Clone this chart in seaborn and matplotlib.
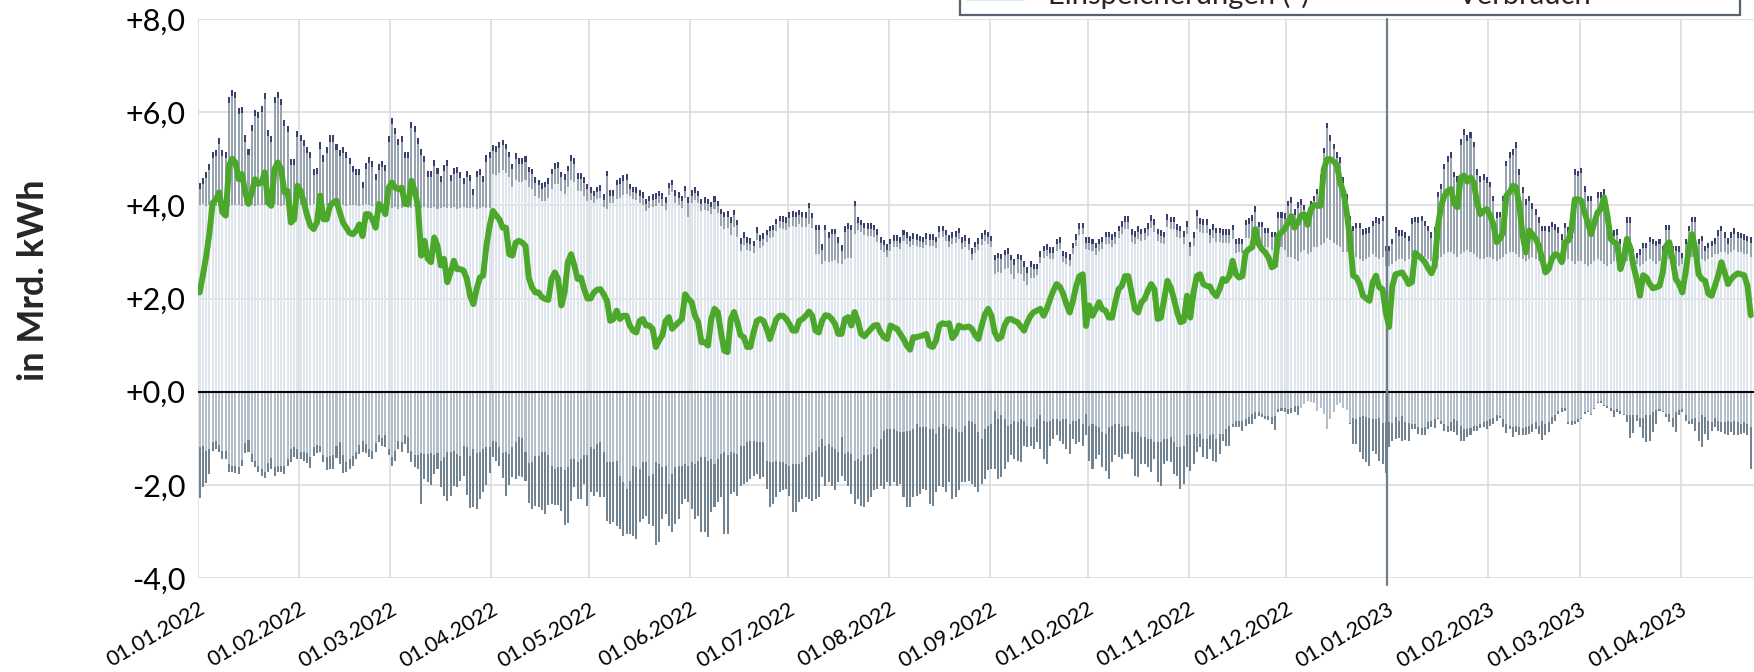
import numpy as np
import pandas as pd
import matplotlib
matplotlib.use("Agg")
import matplotlib.pyplot as plt
import matplotlib.transforms as mtransforms
from matplotlib.patches import Patch
from matplotlib.lines import Line2D
from matplotlib.ticker import FuncFormatter
import seaborn as sns

START = "2022-01-01"

# Gesamtaufkommen (Oberkante der positiven Säule) in Mrd. kWh pro Tag
aufkommen = [
    4.49, 4.58, 4.72, 4.89, 5.15, 5.19, 5.44, 5.19, 5.14, 6.32, 6.48, 6.44, 6.10, 6.12, 5.50, 5.20, 5.72, 6.05, 6.01, 6.14, 6.41, 5.62, 5.48, 6.32, 6.44, 6.28, 5.84, 5.71, 5.00, 5.00, 5.60,
    5.51, 5.41, 5.25, 5.15, 4.79, 4.81, 5.35, 5.07, 5.25, 5.50, 5.50, 5.32, 5.19, 5.25, 5.15, 5.01, 4.85, 4.78, 4.78, 4.51, 4.91, 5.04, 4.96, 4.67, 4.89, 4.96, 4.86, 5.48,
    5.87, 5.67, 5.42, 5.48, 5.15, 5.15, 5.79, 5.71, 5.44, 5.21, 5.05, 4.74, 4.74, 4.98, 4.81, 4.63, 4.86, 4.98, 4.65, 4.81, 4.83, 4.71, 4.58, 4.74, 4.65, 4.36, 4.74, 4.78, 4.63, 5.07, 5.15,
    5.29, 5.27, 5.35, 5.41, 5.32, 5.15, 4.89, 5.12, 5.01, 5.01, 5.05, 4.83, 4.79, 4.60, 4.55, 4.48, 4.51, 4.58, 4.79, 4.91, 4.93, 4.72, 4.67, 4.85, 5.07, 5.01, 4.69, 4.69, 4.60, 4.46,
    4.39, 4.31, 4.40, 4.43, 4.24, 4.74, 4.33, 4.33, 4.55, 4.58, 4.65, 4.67, 4.46, 4.40, 4.39, 4.33, 4.28, 4.14, 4.21, 4.24, 4.26, 4.31, 4.26, 4.17, 4.49, 4.55, 4.33, 4.28, 4.21, 4.42, 4.17,
    4.33, 4.39, 4.31, 4.14, 4.17, 4.14, 4.08, 4.20, 4.10, 3.93, 3.86, 3.88, 3.74, 3.91, 3.69, 3.29, 3.42, 3.31, 3.29, 3.24, 3.53, 3.36, 3.40, 3.48, 3.56, 3.58, 3.71, 3.78, 3.77, 3.74,
    3.85, 3.88, 3.86, 3.91, 3.86, 3.85, 4.06, 3.84, 3.58, 3.58, 3.17, 3.58, 3.42, 3.50, 3.50, 3.31, 3.15, 3.55, 3.62, 3.58, 4.10, 3.74, 3.69, 3.63, 3.62, 3.62, 3.58, 3.49, 3.31, 3.26, 3.17,
    3.28, 3.36, 3.36, 3.31, 3.48, 3.42, 3.35, 3.40, 3.38, 3.35, 3.33, 3.40, 3.38, 3.38, 3.33, 3.55, 3.56, 3.48, 3.36, 3.42, 3.45, 3.52, 3.31, 3.36, 3.29, 3.08, 3.22, 3.29, 3.40, 3.48, 3.43,
    3.35, 2.94, 2.98, 2.96, 3.05, 3.08, 2.94, 2.84, 2.96, 2.94, 2.80, 2.67, 2.80, 2.75, 2.75, 3.01, 3.13, 3.17, 3.10, 3.10, 3.28, 3.31, 3.03, 3.00, 2.95, 3.20, 3.38, 3.62, 3.63, 3.31,
    3.31, 3.28, 3.20, 3.28, 3.33, 3.43, 3.43, 3.38, 3.43, 3.56, 3.66, 3.77, 3.77, 3.49, 3.45, 3.55, 3.50, 3.52, 3.62, 3.79, 3.70, 3.50, 3.47, 3.43, 3.81, 3.76, 3.76, 3.60, 3.56, 3.45, 3.66,
    3.22, 3.42, 3.89, 3.72, 3.70, 3.70, 3.49, 3.60, 3.52, 3.52, 3.49, 3.49, 3.49, 3.58, 3.28, 3.29, 3.28, 3.69, 3.72, 3.79, 3.98, 3.65, 3.65, 3.52, 3.52, 3.43, 3.43, 3.85, 3.85, 3.83,
    4.10, 4.17, 3.92, 4.07, 4.13, 4.01, 3.85, 4.10, 4.21, 4.36, 4.65, 5.24, 5.77, 5.51, 5.32, 5.14, 5.03, 4.60, 4.24, 3.78, 3.56, 3.63, 3.63, 3.49, 3.51, 3.53, 3.67, 3.74, 3.72, 3.78, 3.13,
    3.13, 3.28, 3.53, 3.47, 3.46, 3.42, 3.35, 3.72, 3.76, 3.74, 3.78, 3.67, 3.56, 3.42, 3.53, 4.29, 4.46, 4.89, 5.06, 5.14, 4.72, 4.62, 5.42, 5.64, 5.51, 5.57, 5.37, 4.77, 4.62, 4.67, 4.60,
    4.51, 4.21, 3.85, 3.86, 4.21, 4.96, 5.14, 5.21, 5.35, 4.78, 4.39, 4.13, 4.21, 4.05, 3.92, 3.74, 3.56, 3.56, 3.55, 3.65, 3.60, 3.53, 3.38, 3.63, 3.53, 3.42, 4.78, 4.74,
    4.81, 4.41, 4.21, 4.21, 3.78, 4.28, 4.28, 4.35, 3.74, 3.56, 3.46, 3.49, 3.28, 3.15, 3.74, 3.74, 3.06, 2.98, 3.06, 3.20, 3.20, 3.33, 3.28, 3.24, 3.28, 3.13, 3.58, 3.58, 3.13, 3.13, 3.12,
    2.98, 3.28, 3.56, 3.76, 3.76, 3.28, 3.35, 3.13, 3.20, 3.24, 3.29, 3.46, 3.56, 3.42, 3.29, 3.42, 3.51, 3.42, 3.41, 3.38, 3.35, 3.31,
]

# Importe (helle Säule)
importe = [
    4.00, 4.02, 3.98, 4.00, 4.01, 3.99, 4.00, 4.02, 4.00, 3.98, 4.00, 4.01, 4.00, 3.99, 4.00, 4.02, 4.00, 3.98, 4.00, 4.01, 4.00, 3.99, 4.00, 4.02, 4.00, 3.98, 4.00, 4.01, 4.00, 3.99, 4.00,
    4.00, 4.01, 3.99, 4.00, 4.02, 4.00, 3.98, 4.00, 4.01, 4.00, 3.99, 4.00, 4.02, 4.00, 3.98, 4.00, 4.01, 4.00, 3.99, 4.00, 4.02, 4.00, 3.98, 4.00, 4.01, 4.00, 3.99, 4.00,
    3.95, 3.97, 3.93, 3.95, 3.96, 3.94, 3.95, 3.97, 3.93, 3.95, 3.96, 3.94, 3.95, 3.97, 3.93, 3.95, 3.96, 3.94, 3.95, 3.97, 3.93, 3.95, 3.96, 3.94, 3.95, 3.97, 3.93, 3.95, 3.96, 3.94, 3.95,
    4.67, 4.65, 4.70, 4.75, 4.70, 4.60, 4.40, 4.55, 4.50, 4.50, 4.55, 4.40, 4.35, 4.20, 4.15, 4.10, 4.10, 4.15, 4.35, 4.45, 4.45, 4.30, 4.25, 4.40, 4.55, 4.50, 4.30, 4.30, 4.20, 4.10,
    4.12, 4.04, 4.13, 4.16, 3.97, 3.92, 4.06, 4.06, 4.13, 4.16, 4.23, 4.25, 4.19, 4.13, 4.12, 4.06, 4.01, 3.87, 3.94, 3.97, 3.99, 4.04, 3.99, 3.90, 4.22, 4.28, 4.06, 4.01, 3.94, 4.15, 3.75,
    4.06, 4.12, 4.04, 3.87, 3.90, 3.87, 3.81, 3.93, 3.83, 3.56, 3.49, 3.51, 3.37, 3.54, 3.32, 3.02, 3.15, 3.04, 3.02, 2.97, 3.26, 3.09, 3.13, 3.21, 3.29, 3.31, 3.44, 3.51, 3.50, 3.47,
    3.53, 3.56, 3.54, 3.59, 3.54, 3.53, 3.60, 3.52, 2.96, 2.96, 2.75, 2.80, 2.78, 2.80, 2.82, 2.76, 2.73, 2.85, 2.88, 2.86, 3.38, 3.47, 3.42, 3.36, 3.35, 3.35, 3.31, 3.22, 3.04, 2.99, 2.90,
    3.03, 3.11, 3.11, 3.06, 3.23, 3.17, 3.10, 3.15, 3.13, 3.10, 3.08, 3.15, 3.13, 3.13, 3.08, 3.30, 3.31, 3.23, 3.11, 3.17, 3.20, 3.27, 3.06, 3.11, 3.04, 2.83, 2.97, 3.04, 3.15, 3.23, 3.18,
    3.10, 2.52, 2.56, 2.54, 2.63, 2.66, 2.52, 2.42, 2.54, 2.52, 2.38, 2.30, 2.45, 2.45, 2.50, 2.76, 2.88, 2.92, 2.85, 2.85, 3.03, 3.06, 2.78, 2.75, 2.70, 2.95, 3.13, 3.37, 3.38, 3.06,
    3.04, 3.01, 2.93, 3.01, 3.06, 3.16, 3.16, 3.11, 3.16, 3.29, 3.39, 3.50, 3.50, 3.22, 3.18, 3.28, 3.23, 3.25, 3.35, 3.52, 3.43, 3.23, 3.20, 3.16, 3.54, 3.49, 3.49, 3.33, 3.29, 3.18, 3.39,
    2.92, 3.12, 3.50, 3.42, 3.40, 3.40, 3.19, 3.30, 3.22, 3.22, 3.19, 3.19, 3.19, 3.28, 2.98, 2.99, 2.98, 3.30, 3.30, 3.30, 3.35, 3.20, 3.15, 3.10, 3.10, 3.05, 3.05, 3.15, 3.10, 3.05,
    2.90, 2.90, 2.85, 2.80, 3.00, 3.05, 2.95, 3.00, 3.10, 3.10, 3.15, 3.20, 3.30, 3.25, 3.20, 3.15, 3.10, 3.00, 3.00, 2.95, 2.90, 2.90, 2.85, 2.80, 2.85, 2.90, 2.95, 2.90, 2.85, 2.90, 2.70,
    2.70, 2.75, 2.80, 2.85, 2.85, 2.80, 2.85, 2.90, 2.90, 2.95, 2.90, 2.90, 2.85, 2.80, 2.80, 2.85, 2.90, 2.95, 3.00, 3.00, 2.95, 2.90, 2.95, 3.00, 3.05, 3.00, 2.95, 2.90, 2.85, 2.85, 2.90,
    2.90, 2.85, 2.80, 2.85, 2.90, 2.95, 3.00, 3.00, 2.95, 2.90, 2.85, 2.80, 2.85, 2.90, 2.85, 2.80, 2.75, 2.80, 2.85, 2.90, 2.85, 2.80, 2.75, 2.80, 2.85, 2.80, 2.75, 2.80,
    2.80, 2.75, 2.70, 2.75, 2.80, 2.85, 2.80, 2.75, 2.70, 2.75, 2.80, 2.80, 2.75, 2.70, 2.80, 2.85, 2.80, 2.75, 2.70, 2.75, 2.80, 2.85, 2.80, 2.75, 2.80, 2.75, 2.80, 2.85, 2.80, 2.75, 2.70,
    2.75, 2.80, 2.85, 2.90, 2.90, 2.85, 2.85, 2.80, 2.85, 2.90, 2.95, 2.95, 3.00, 3.00, 2.95, 3.00, 3.05, 3.00, 3.00, 2.95, 2.95, 2.90,
]

# Inlandsförderung (dunkle Kappe oben)
foerderung = [
    0.13, 0.13, 0.13, 0.13, 0.13, 0.13, 0.13, 0.13, 0.13, 0.13, 0.13, 0.13, 0.13, 0.13, 0.13, 0.13, 0.13, 0.13, 0.13, 0.13, 0.13, 0.13, 0.13, 0.13, 0.13, 0.13, 0.13, 0.13, 0.13, 0.13, 0.13,
    0.13, 0.13, 0.13, 0.13, 0.13, 0.13, 0.13, 0.13, 0.13, 0.13, 0.13, 0.13, 0.13, 0.13, 0.13, 0.13, 0.13, 0.13, 0.13, 0.13, 0.13, 0.13, 0.13, 0.13, 0.13, 0.13, 0.13, 0.13,
    0.13, 0.13, 0.13, 0.13, 0.13, 0.13, 0.13, 0.13, 0.13, 0.13, 0.13, 0.13, 0.13, 0.13, 0.13, 0.13, 0.13, 0.13, 0.13, 0.13, 0.13, 0.13, 0.13, 0.13, 0.13, 0.13, 0.13, 0.13, 0.13, 0.13, 0.13,
    0.12, 0.12, 0.12, 0.12, 0.12, 0.12, 0.12, 0.12, 0.12, 0.12, 0.12, 0.12, 0.12, 0.12, 0.12, 0.12, 0.12, 0.12, 0.12, 0.12, 0.12, 0.12, 0.12, 0.12, 0.12, 0.12, 0.12, 0.12, 0.12, 0.12,
    0.12, 0.12, 0.12, 0.12, 0.12, 0.12, 0.12, 0.12, 0.12, 0.12, 0.12, 0.12, 0.12, 0.12, 0.12, 0.12, 0.12, 0.12, 0.12, 0.12, 0.12, 0.12, 0.12, 0.12, 0.12, 0.12, 0.12, 0.12, 0.12, 0.12, 0.12,
    0.12, 0.12, 0.12, 0.12, 0.12, 0.12, 0.12, 0.12, 0.12, 0.12, 0.12, 0.12, 0.12, 0.12, 0.12, 0.12, 0.12, 0.12, 0.12, 0.12, 0.12, 0.12, 0.12, 0.12, 0.12, 0.12, 0.12, 0.12, 0.12, 0.12,
    0.12, 0.12, 0.12, 0.12, 0.12, 0.12, 0.12, 0.12, 0.12, 0.12, 0.12, 0.12, 0.12, 0.12, 0.12, 0.12, 0.12, 0.12, 0.12, 0.12, 0.12, 0.12, 0.12, 0.12, 0.12, 0.12, 0.12, 0.12, 0.12, 0.12, 0.12,
    0.12, 0.12, 0.12, 0.12, 0.12, 0.12, 0.12, 0.12, 0.12, 0.12, 0.12, 0.12, 0.12, 0.12, 0.12, 0.12, 0.12, 0.12, 0.12, 0.12, 0.12, 0.12, 0.12, 0.12, 0.12, 0.12, 0.12, 0.12, 0.12, 0.12, 0.12,
    0.12, 0.12, 0.12, 0.12, 0.12, 0.12, 0.12, 0.12, 0.12, 0.12, 0.12, 0.12, 0.12, 0.12, 0.12, 0.12, 0.12, 0.12, 0.12, 0.12, 0.12, 0.12, 0.12, 0.12, 0.12, 0.12, 0.12, 0.12, 0.12, 0.12,
    0.12, 0.12, 0.12, 0.12, 0.12, 0.12, 0.12, 0.12, 0.12, 0.12, 0.12, 0.12, 0.12, 0.12, 0.12, 0.12, 0.12, 0.12, 0.12, 0.12, 0.12, 0.12, 0.12, 0.12, 0.12, 0.12, 0.12, 0.12, 0.12, 0.12, 0.12,
    0.12, 0.12, 0.12, 0.12, 0.12, 0.12, 0.12, 0.12, 0.12, 0.12, 0.12, 0.12, 0.12, 0.12, 0.12, 0.12, 0.12, 0.12, 0.12, 0.12, 0.12, 0.12, 0.12, 0.12, 0.12, 0.12, 0.12, 0.12, 0.12, 0.12,
    0.12, 0.12, 0.12, 0.12, 0.12, 0.12, 0.12, 0.12, 0.12, 0.12, 0.12, 0.12, 0.12, 0.12, 0.12, 0.12, 0.12, 0.12, 0.12, 0.12, 0.12, 0.12, 0.12, 0.12, 0.12, 0.12, 0.12, 0.12, 0.12, 0.12, 0.12,
    0.12, 0.12, 0.12, 0.12, 0.12, 0.12, 0.12, 0.12, 0.12, 0.12, 0.12, 0.12, 0.12, 0.12, 0.12, 0.12, 0.12, 0.12, 0.12, 0.12, 0.12, 0.12, 0.12, 0.12, 0.12, 0.12, 0.12, 0.12, 0.12, 0.12, 0.12,
    0.12, 0.12, 0.12, 0.12, 0.12, 0.12, 0.12, 0.12, 0.12, 0.12, 0.12, 0.12, 0.12, 0.12, 0.12, 0.12, 0.12, 0.12, 0.12, 0.12, 0.12, 0.12, 0.12, 0.12, 0.12, 0.12, 0.12, 0.12,
    0.12, 0.12, 0.12, 0.12, 0.12, 0.12, 0.12, 0.12, 0.12, 0.12, 0.12, 0.12, 0.12, 0.12, 0.12, 0.12, 0.12, 0.12, 0.12, 0.12, 0.12, 0.12, 0.12, 0.12, 0.12, 0.12, 0.12, 0.12, 0.12, 0.12, 0.12,
    0.12, 0.12, 0.12, 0.12, 0.12, 0.12, 0.12, 0.12, 0.12, 0.12, 0.12, 0.12, 0.12, 0.12, 0.12, 0.12, 0.12, 0.12, 0.12, 0.12, 0.12, 0.12,
]

# Exporte (helle Säule unten, negativ)
exporte = [
    -1.19, -1.16, -1.27, -1.24, -1.09, -1.05, -1.14, -1.27, -1.27, -1.55, -1.59, -1.60, -1.62, -1.46, -1.10, -1.03, -1.34, -1.48, -1.60, -1.67, -1.73, -1.53, -1.43, -1.62, -1.59, -1.60, -1.60, -1.44, -1.23, -1.19, -1.23,
    -1.29, -1.30, -1.32, -1.41, -1.19, -1.14, -1.16, -1.36, -1.41, -1.39, -1.37, -1.16, -1.09, -1.37, -1.52, -1.44, -1.39, -1.29, -1.14, -1.05, -1.12, -1.23, -1.27, -1.10, -0.94, -1.00, -0.93, -1.23,
    -1.41, -1.27, -1.05, -1.09, -0.94, -0.98, -1.27, -1.36, -1.37, -1.32, -1.34, -1.34, -1.32, -1.36, -1.32, -1.48, -1.41, -1.30, -1.29, -1.27, -1.34, -1.39, -1.17, -1.19, -1.39, -1.24, -1.32, -1.30, -1.24, -1.19, -1.19,
    -1.05, -1.09, -1.19, -1.32, -1.30, -1.34, -1.19, -1.09, -0.98, -1.00, -1.30, -1.53, -1.52, -1.39, -1.39, -1.29, -1.30, -1.37, -1.60, -1.66, -1.62, -1.62, -1.69, -1.62, -1.44, -1.44, -1.52, -1.44, -1.37, -1.37,
    -1.19, -1.23, -1.12, -1.09, -1.30, -1.52, -1.52, -1.50, -1.48, -1.80, -1.94, -2.09, -1.91, -1.59, -1.62, -1.66, -1.52, -1.52, -1.80, -1.77, -1.52, -1.55, -1.62, -1.59, -1.98, -1.77, -1.62, -1.59, -1.59, -1.55, -1.59,
    -1.52, -1.55, -1.48, -1.41, -1.41, -1.48, -1.44, -1.55, -1.44, -1.34, -1.30, -1.37, -1.30, -1.32, -1.34, -1.16, -1.16, -1.09, -1.05, -1.05, -1.09, -1.09, -1.09, -1.48, -1.52, -1.52, -1.48, -1.52, -1.52, -1.55,
    -1.59, -1.55, -1.55, -1.55, -1.52, -1.41, -1.37, -1.30, -1.27, -1.19, -1.02, -1.16, -1.12, -1.19, -1.23, -1.30, -0.98, -1.34, -1.30, -1.34, -1.48, -1.44, -1.48, -1.37, -1.37, -1.34, -1.19, -1.23, -1.02, -0.84, -0.80,
    -0.80, -0.80, -0.84, -0.87, -0.87, -0.84, -0.84, -0.80, -0.69, -0.76, -0.76, -0.76, -0.80, -0.80, -0.91, -0.76, -0.69, -0.73, -0.80, -0.76, -0.80, -0.87, -0.87, -0.73, -0.62, -0.66, -0.69, -0.87, -1.02, -0.80, -0.73,
    -0.69, -0.41, -0.59, -0.51, -0.59, -0.73, -0.69, -0.62, -0.66, -0.59, -0.62, -0.73, -0.76, -0.76, -0.59, -0.51, -0.62, -0.66, -0.62, -0.59, -0.59, -0.64, -0.59, -0.59, -0.69, -0.62, -0.62, -0.59, -0.69, -0.48,
    -0.73, -0.69, -0.73, -0.76, -0.87, -0.91, -0.76, -0.73, -0.69, -0.69, -0.76, -0.73, -0.73, -0.86, -0.87, -0.87, -0.98, -0.98, -1.02, -1.02, -1.07, -1.09, -1.09, -1.02, -1.02, -0.98, -1.09, -1.19, -1.19, -1.16, -0.94,
    -0.94, -0.91, -0.98, -0.91, -1.02, -1.02, -0.94, -0.91, -1.02, -0.91, -0.91, -0.80, -0.73, -0.69, -0.62, -0.62, -0.62, -0.59, -0.55, -0.48, -0.44, -0.44, -0.48, -0.52, -0.53, -0.55, -0.53, -0.37, -0.34, -0.34,
    -0.37, -0.34, -0.30, -0.30, -0.36, -0.26, -0.21, -0.23, -0.24, -0.41, -0.36, -0.48, -0.80, -0.59, -0.43, -0.29, -0.24, -0.34, -0.39, -0.67, -0.57, -0.59, -0.55, -0.53, -0.55, -0.57, -0.59, -0.59, -0.57, -0.67, -0.66,
    -0.66, -0.67, -0.55, -0.62, -0.53, -0.66, -0.67, -0.69, -0.69, -0.76, -0.79, -0.76, -0.66, -0.62, -0.59, -0.57, -0.62, -0.69, -0.73, -0.66, -0.59, -0.62, -0.73, -0.80, -0.80, -0.79, -0.73, -0.73, -0.69, -0.66, -0.62,
    -0.59, -0.57, -0.51, -0.53, -0.59, -0.69, -0.73, -0.76, -0.73, -0.76, -0.79, -0.76, -0.73, -0.69, -0.66, -0.73, -0.62, -0.69, -0.66, -0.55, -0.50, -0.41, -0.36, -0.34, -0.66, -0.62, -0.62, -0.59,
    -0.57, -0.44, -0.41, -0.48, -0.34, -0.23, -0.21, -0.29, -0.30, -0.36, -0.39, -0.37, -0.41, -0.48, -0.50, -0.51, -0.50, -0.51, -0.57, -0.57, -0.51, -0.50, -0.44, -0.39, -0.37, -0.41, -0.48, -0.48, -0.57, -0.44, -0.39,
    -0.37, -0.51, -0.62, -0.59, -0.57, -0.66, -0.51, -0.55, -0.62, -0.66, -0.57, -0.62, -0.66, -0.66, -0.64, -0.66, -0.62, -0.66, -0.69, -0.66, -0.69, -0.76,
]

# Gesamtabfluss = Exporte + Einspeicherungen (Unterkante, negativ)
abfluss = [
    -2.29, -2.05, -1.96, -1.77, -1.27, -1.23, -1.30, -1.44, -1.44, -1.72, -1.73, -1.74, -1.77, -1.60, -1.32, -1.30, -1.52, -1.62, -1.73, -1.82, -1.86, -1.73, -1.66, -1.82, -1.73, -1.73, -1.77, -1.60, -1.50, -1.41, -1.44,
    -1.44, -1.48, -1.53, -1.64, -1.39, -1.32, -1.29, -1.50, -1.69, -1.67, -1.66, -1.43, -1.55, -1.74, -1.72, -1.66, -1.59, -1.44, -1.34, -1.30, -1.32, -1.41, -1.44, -1.30, -1.07, -1.17, -1.19, -1.37,
    -1.59, -1.48, -1.23, -1.29, -1.12, -1.32, -1.52, -1.62, -1.66, -2.41, -1.87, -1.94, -2.00, -1.77, -1.66, -2.05, -2.23, -2.34, -2.25, -2.03, -2.05, -1.91, -1.80, -2.22, -2.50, -2.48, -2.52, -2.30, -2.15, -2.00, -1.74,
    -1.41, -1.48, -1.60, -1.86, -2.23, -2.00, -1.84, -1.87, -1.82, -1.84, -1.91, -2.39, -2.52, -2.45, -2.48, -2.55, -2.62, -2.43, -2.41, -2.43, -2.43, -2.57, -2.87, -2.82, -2.34, -2.05, -2.30, -2.30, -1.98, -2.46,
    -2.16, -2.23, -2.16, -2.27, -2.27, -2.77, -2.84, -2.80, -2.88, -2.95, -3.09, -3.05, -3.05, -3.09, -3.16, -2.80, -2.73, -2.66, -2.84, -2.88, -3.30, -3.23, -2.73, -2.62, -2.88, -3.02, -2.84, -2.73, -2.41, -2.30, -2.37,
    -2.52, -2.73, -2.66, -3.02, -3.02, -3.13, -2.59, -2.48, -2.37, -2.27, -3.05, -3.05, -2.19, -2.16, -2.23, -2.02, -1.98, -1.94, -1.87, -1.80, -1.77, -1.87, -1.84, -2.09, -2.48, -2.41, -2.27, -2.16, -2.12, -2.09,
    -2.23, -2.59, -2.59, -2.37, -2.30, -2.27, -2.30, -2.34, -2.30, -2.27, -1.84, -2.02, -1.94, -2.02, -2.12, -1.94, -1.80, -1.91, -2.02, -2.19, -2.41, -2.30, -2.45, -2.48, -2.37, -2.27, -2.12, -2.09, -2.02, -2.09, -1.94,
    -2.02, -1.94, -2.02, -1.98, -2.27, -2.48, -2.48, -2.27, -2.23, -2.19, -2.09, -2.12, -2.41, -2.45, -2.16, -2.02, -2.05, -2.16, -1.94, -2.30, -2.27, -2.12, -1.94, -1.94, -1.91, -1.98, -2.05, -2.16, -1.98, -1.87, -1.69,
    -1.66, -1.66, -1.87, -1.84, -1.66, -1.52, -1.37, -1.44, -1.48, -1.52, -1.16, -1.19, -1.16, -1.23, -1.09, -1.23, -1.44, -1.55, -1.16, -1.02, -0.94, -1.05, -1.12, -1.23, -1.34, -1.02, -1.12, -1.09, -1.16, -0.94,
    -1.48, -1.66, -1.44, -1.37, -1.62, -1.70, -1.87, -1.52, -1.37, -1.41, -1.44, -1.34, -1.34, -1.44, -1.80, -1.84, -1.55, -1.55, -1.62, -1.73, -1.44, -1.94, -2.02, -1.55, -1.48, -1.52, -1.77, -1.80, -2.09, -1.98, -1.62,
    -1.70, -1.55, -1.30, -1.19, -1.41, -1.44, -1.23, -1.48, -1.52, -1.34, -1.05, -1.16, -1.16, -0.76, -0.76, -0.76, -0.84, -0.73, -0.69, -0.69, -0.59, -0.52, -0.55, -0.59, -0.60, -0.69, -0.82, -0.44, -0.41, -0.44,
    -0.48, -0.45, -0.44, -0.50, -0.36, -0.26, -0.21, -0.23, -0.24, -0.41, -0.36, -0.48, -0.80, -0.59, -0.43, -0.29, -0.24, -0.34, -0.39, -0.69, -1.12, -1.12, -1.29, -1.44, -1.50, -1.59, -1.27, -1.34, -1.48, -1.55, -1.74,
    -1.19, -1.05, -1.02, -1.00, -1.05, -1.03, -1.05, -0.80, -0.80, -0.91, -0.94, -0.93, -0.80, -0.76, -0.79, -0.58, -0.69, -0.84, -0.86, -0.84, -0.87, -0.94, -1.05, -1.05, -0.98, -0.93, -0.84, -0.84, -0.79, -0.76, -0.80,
    -0.73, -0.69, -0.64, -0.57, -0.76, -0.89, -0.80, -0.98, -0.87, -0.93, -0.94, -0.93, -0.91, -0.86, -0.80, -0.91, -1.03, -0.94, -0.87, -0.69, -0.64, -0.48, -0.44, -0.41, -0.69, -0.71, -0.69, -0.66,
    -0.59, -0.48, -0.43, -0.51, -0.37, -0.24, -0.24, -0.30, -0.34, -0.41, -0.55, -0.44, -0.48, -0.51, -0.66, -1.00, -0.89, -0.62, -0.76, -1.00, -1.09, -1.05, -0.87, -0.69, -0.41, -0.44, -0.55, -0.66, -0.76, -0.86, -0.51,
    -0.43, -0.62, -0.69, -0.69, -0.84, -1.05, -1.19, -0.91, -1.03, -0.84, -0.76, -0.84, -0.86, -0.91, -0.94, -0.86, -0.94, -0.93, -0.91, -0.89, -0.93, -1.67,
]

# Verbrauch (grüne Linie)
verbrauch = [
    2.13, 2.50, 2.90, 3.40, 4.05, 4.13, 4.28, 3.85, 3.78, 4.85, 5.00, 4.92, 4.56, 4.67, 4.28, 4.03, 4.28, 4.56, 4.46, 4.50, 4.71, 4.06, 3.99, 4.78, 4.92, 4.78, 4.28, 4.31, 3.63, 3.70, 4.42,
    4.31, 4.06, 3.78, 3.56, 3.49, 3.63, 4.21, 3.70, 3.70, 3.99, 4.06, 4.10, 3.85, 3.63, 3.52, 3.41, 3.38, 3.45, 3.59, 3.34, 3.81, 3.81, 3.70, 3.52, 4.03, 3.96, 3.81, 4.38,
    4.49, 4.38, 4.35, 4.38, 4.03, 4.03, 4.53, 4.31, 3.99, 2.92, 3.24, 2.85, 2.78, 3.31, 3.13, 2.71, 2.85, 2.35, 2.56, 2.81, 2.63, 2.63, 2.60, 2.42, 2.06, 1.88, 2.20, 2.45, 2.49, 3.13, 3.56,
    3.88, 3.78, 3.70, 3.52, 3.52, 2.95, 2.92, 3.20, 3.24, 3.20, 3.13, 2.45, 2.24, 2.13, 2.13, 2.03, 1.99, 1.97, 2.42, 2.56, 2.42, 1.85, 2.13, 2.78, 2.95, 2.71, 2.42, 2.45, 2.20, 2.00,
    2.00, 2.13, 2.19, 2.20, 2.09, 1.95, 1.52, 1.56, 1.74, 1.56, 1.63, 1.63, 1.42, 1.31, 1.27, 1.52, 1.56, 1.42, 1.42, 1.35, 0.96, 1.10, 1.21, 1.52, 1.60, 1.35, 1.42, 1.49, 1.56, 2.09, 1.99,
    1.92, 1.63, 1.49, 1.06, 1.06, 0.99, 1.56, 1.78, 1.71, 1.27, 0.88, 0.85, 1.56, 1.71, 1.49, 1.21, 1.17, 0.96, 0.96, 1.27, 1.52, 1.56, 1.52, 1.35, 1.13, 1.35, 1.56, 1.63, 1.63, 1.56,
    1.45, 1.31, 1.31, 1.52, 1.56, 1.63, 1.72, 1.63, 1.31, 1.27, 1.52, 1.64, 1.63, 1.56, 1.45, 1.24, 1.24, 1.56, 1.60, 1.42, 1.71, 1.52, 1.24, 1.19, 1.27, 1.35, 1.42, 1.43, 1.27, 1.17, 1.13,
    1.42, 1.38, 1.35, 1.24, 1.13, 0.99, 0.90, 1.17, 1.17, 1.19, 1.21, 1.24, 0.99, 0.96, 1.10, 1.42, 1.47, 1.45, 1.47, 1.15, 1.24, 1.42, 1.38, 1.38, 1.40, 1.35, 1.21, 1.13, 1.42, 1.66, 1.78,
    1.63, 1.27, 1.13, 1.17, 1.42, 1.55, 1.56, 1.52, 1.49, 1.40, 1.31, 1.49, 1.63, 1.71, 1.74, 1.78, 1.63, 1.78, 1.99, 2.17, 2.31, 2.25, 2.10, 1.88, 1.70, 1.95, 2.27, 2.48, 2.52, 1.41,
    1.85, 1.63, 1.77, 1.92, 1.77, 1.74, 1.59, 1.59, 1.92, 2.20, 2.27, 2.48, 2.48, 2.13, 1.77, 1.70, 1.92, 1.99, 2.17, 2.31, 2.20, 1.56, 1.59, 1.99, 2.38, 2.24, 1.99, 1.70, 1.49, 1.52, 2.06,
    1.59, 2.13, 2.48, 2.52, 2.31, 2.27, 2.26, 2.13, 2.05, 2.20, 2.42, 2.38, 2.48, 2.81, 2.52, 2.45, 2.48, 2.99, 3.06, 3.10, 3.49, 3.17, 3.06, 2.99, 2.88, 2.67, 2.71, 3.35, 3.42, 3.49,
    3.63, 3.77, 3.52, 3.63, 3.78, 3.81, 3.58, 3.92, 4.01, 3.99, 3.99, 4.78, 4.99, 4.99, 4.94, 4.87, 4.49, 4.28, 3.85, 3.28, 2.49, 2.45, 2.31, 2.06, 2.00, 1.95, 2.35, 2.49, 2.24, 2.20, 1.71,
    1.39, 2.27, 2.52, 2.54, 2.56, 2.45, 2.31, 2.35, 2.98, 2.92, 2.86, 2.78, 2.65, 2.54, 2.70, 3.56, 3.99, 4.21, 4.31, 4.35, 4.03, 3.96, 4.60, 4.64, 4.51, 4.60, 4.49, 4.06, 3.81, 3.88, 3.92,
    3.78, 3.60, 3.21, 3.28, 3.42, 4.21, 4.28, 4.42, 4.39, 3.99, 3.35, 2.99, 3.46, 3.38, 3.28, 3.13, 2.85, 2.56, 2.63, 2.86, 2.95, 2.92, 2.78, 3.21, 3.24, 3.49, 4.13, 4.13,
    4.10, 3.85, 3.63, 3.38, 3.63, 3.85, 3.92, 4.17, 3.78, 3.28, 3.21, 3.17, 2.63, 2.85, 3.28, 3.10, 2.70, 2.42, 2.06, 2.50, 2.45, 2.31, 2.22, 2.24, 2.27, 2.56, 3.13, 3.21, 2.85, 2.42, 2.31,
    2.13, 2.56, 3.06, 3.38, 3.06, 2.52, 2.42, 2.38, 2.10, 2.06, 2.27, 2.49, 2.78, 2.56, 2.31, 2.42, 2.49, 2.54, 2.52, 2.50, 2.27, 1.64,
]

tick_labels = ["01.01.2022", "01.02.2022", "01.03.2022", "01.04.2022", "01.05.2022", "01.06.2022",
               "01.07.2022", "01.08.2022", "01.09.2022", "01.10.2022", "01.11.2022", "01.12.2022",
               "01.01.2023", "01.02.2023", "01.03.2023", "01.04.2023"]
y_ticks = [-4, -2, 0, 2, 4, 6, 8]
legend_labels = ["Importe", "Förderung", "Einspeicherungen (-)",
                 "Exporte (-)", "Ausspeicherungen (+)", "Verbrauch"]
jahreswechsel = "01.01.2023"

# ---------------------------------------------------------------------------
C_IMP = "#DFE5EC"
C_AUS = "#98A4B0"
C_PROD = "#3D3F6E"
C_EXP = "#B3BFCA"
C_EIN = "#718290"
C_GREEN = "#4BA82B"

sns.set_theme(style="white")
plt.rcParams["font.family"] = ["Lato", "DejaVu Sans"]

W, H = 1754, 672
fig = plt.figure(figsize=(W / 100, H / 100), dpi=100)
ax = fig.add_axes([198 / W, (H - 578) / H, (W - 198) / W, (578 - 19) / H])

start = pd.Timestamp(START)


def xs(a):
    return np.arange(len(a)) + 0.5


top = np.asarray(aufkommen, float)
prod = np.asarray(foerderung[:len(top)], float)
below_cap = top - prod
imp = np.minimum(np.asarray(importe[:len(top)], float), below_cap)

bar_kw = dict(native_scale=True, orient="x", width=0.62, saturation=1,
              errorbar=None, linewidth=0, ax=ax)

sns.barplot(x=xs(top), y=top, color=C_PROD, **bar_kw)
sns.barplot(x=xs(below_cap), y=below_cap, color=C_AUS, **bar_kw)
sns.barplot(x=xs(imp), y=imp, color=C_IMP, **bar_kw)
sns.barplot(x=xs(abfluss), y=np.asarray(abfluss, float), color=C_EIN, **bar_kw)
sns.barplot(x=xs(exporte), y=np.asarray(exporte, float), color=C_EXP, **bar_kw)

sns.lineplot(x=xs(verbrauch), y=np.asarray(verbrauch, float), color=C_GREEN,
             linewidth=4.3, errorbar=None, ax=ax, zorder=5,
             solid_joinstyle="round", solid_capstyle="round")

ax.axhline(0, color="black", linewidth=1.5, zorder=4)
sep = (pd.to_datetime(jahreswechsel, format="%d.%m.%Y") - start).days
ax.axvline(sep, ymin=-0.012, ymax=1.0, color="#6E7E8B", linewidth=1.6,
           zorder=4, clip_on=False)

tick_pos = [(d - start).days for d in pd.to_datetime(tick_labels, format="%d.%m.%Y")]
ax.set_xticks(tick_pos)
ax.set_xticklabels(tick_labels, rotation=30, ha="right", va="top",
                   rotation_mode="anchor", fontsize=15.5)
shift = mtransforms.ScaledTranslation(0.06, 0, fig.dpi_scale_trans)
for lab in ax.get_xticklabels():
    lab.set_transform(lab.get_transform() + shift)
ax.set_xlim(0, len(top) + 0.5)

ax.set_ylim(min(y_ticks), max(y_ticks))
ax.set_yticks(y_ticks)
ax.yaxis.set_major_formatter(FuncFormatter(lambda v, p: f"{v:+.1f}".replace(".", ",")))
ax.tick_params(axis="y", labelsize=22, pad=9, length=0, colors="black")
ax.tick_params(axis="x", pad=15, length=0, colors="black")

ax.grid(True, color="#D9D9D9", linewidth=1.1)
ax.set_axisbelow(True)
for s in ax.spines.values():
    s.set_visible(False)
ax.set_xlabel("")
ax.set_ylabel("")

fig.text(34 / W, 1 - 280 / H, "in Mrd. kWh", rotation=90, ha="center",
         va="center", fontsize=26, fontweight="bold")

handles = [Patch(color=C_IMP), Patch(color=C_PROD), Patch(color=C_EIN),
           Patch(color=C_EXP), Patch(color=C_AUS),
           Line2D([0], [0], color=C_GREEN, linewidth=4.3)]
leg = fig.legend(handles, legend_labels, loc="lower left", mode="expand",
                 bbox_to_anchor=(960 / W, 1 - 15 / H, 780 / W, 0.0),
                 bbox_transform=fig.transFigure, borderaxespad=0.0,
                 ncol=2, frameon=True, fancybox=False, fontsize=21,
                 borderpad=0.2, columnspacing=3.0, handlelength=2.0,
                 handleheight=0.2, handletextpad=0.8,
                 edgecolor="#56626E", framealpha=1)
leg.get_frame().set_linewidth(1.6)

fig.savefig("out.png", dpi=100)
